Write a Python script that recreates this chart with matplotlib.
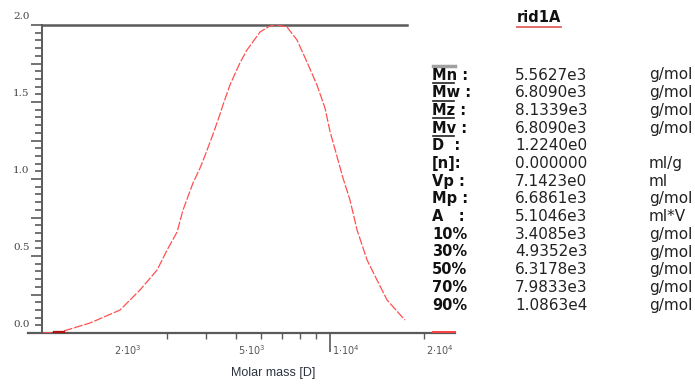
import matplotlib.pyplot as plt
import matplotlib.ticker as ticker

# molar mass distribution
molar_mass = [1202, 1365, 1702, 2123, 2460, 2792, 3006, 3236, 3381, 3639, 3831,
              3972, 4217, 4439, 4538, 4779, 5148, 5420, 5971, 6426, 6765, 7281,
              7838, 8438, 9085, 9638, 10000, 10610, 11010, 11590, 12210, 13150,
              14150, 15240, 17390]
signal = [0.0, 0.006, 0.065, 0.149, 0.279, 0.409, 0.539, 0.656, 0.799, 0.974, 1.07,
          1.15, 1.29, 1.42, 1.48, 1.61, 1.755, 1.838, 1.955, 1.994, 2.0, 1.987,
          1.903, 1.760, 1.610, 1.461, 1.31, 1.123, 1.006, 0.864, 0.669, 0.474,
          0.344, 0.214, 0.084]

# short marks on the baseline (integration limits)
limit_left = [1300, 1400]
limit_right = [21400, 25100]

y_labels = ["0.0", "0.5", "1.0", "1.5", "2.0"]
y_label_vals = [0.0, 0.5, 1.0, 1.5, 2.0]
x_label_vals = [2e3, 5e3, 1e4, 2e4]
x_labels = [r"$2{\cdot}10^{3}$", r"$5{\cdot}10^{3}$", r"$1{\cdot}10^{4}$", r"$2{\cdot}10^{4}$"]
x_minor = [3e3, 4e3, 5e3, 6e3, 7e3, 8e3, 9e3, 2e4]

title = "rid1A"
stat_names = ["Mn :", "Mw :", "Mz :", "Mv :", "D  :", "[n]:", "Vp :", "Mp :", "A   :",
              "10%", "30%", "50%", "70%", "90%"]
stat_values = ["5.5627e3", "6.8090e3", "8.1339e3", "6.8090e3", "1.2240e0", "0.000000",
               "7.1423e0", "6.6861e3", "5.1046e3", "3.4085e3", "4.9352e3", "6.3178e3",
               "7.9833e3", "1.0863e4"]
stat_units = ["g/mol", "g/mol", "g/mol", "g/mol", "", "ml/g", "ml", "g/mol", "ml*V",
              "g/mol", "g/mol", "g/mol", "g/mol", "g/mol"]

W, H = 695, 387
fig = plt.figure(figsize=(W / 100, H / 100), dpi=100)
ax = fig.add_axes([42 / W, 1 - 333 / H, 413 / W, 308 / H])

xmin, xmax = 1194, 25160
ax.set_xscale("log")
ax.set_xlim(xmin, xmax)
ax.set_ylim(0, 2.0)

ax.plot(molar_mass, signal, color="#ff5050", lw=0.9, linestyle=(0, (7, 1.5)), zorder=3)
ax.plot(limit_left, [0.005, 0.005], color="#b01010", lw=1.6, zorder=4, clip_on=False)
ax.plot(limit_right, [0.005, 0.005], color="#ff4040", lw=1.4, zorder=4, clip_on=False)

axis_col = "#5a5a5a"
for s in ["top", "right", "bottom"]:
    ax.spines[s].set_visible(False)
ax.spines["left"].set_color(axis_col)
ax.spines["left"].set_linewidth(1.4)
# bottom line sticks out a bit to the left, top line stops short
ax.plot([-0.034, 1.0], [0, 0], transform=ax.transAxes, color=axis_col, lw=1.6, clip_on=False)
ax.plot([xmin, 17650], [2.0, 2.0], color=axis_col, lw=1.8, clip_on=False)

# y ticks
ax.yaxis.set_major_locator(ticker.MultipleLocator(0.25))
ax.yaxis.set_minor_locator(ticker.MultipleLocator(0.05))
ax.yaxis.set_major_formatter(ticker.NullFormatter())
ax.tick_params(axis="y", which="major", length=8, width=1.2, color=axis_col)
ax.tick_params(axis="y", which="minor", length=5, width=1.2, color=axis_col)
for v, lab in zip(y_label_vals, y_labels):
    ax.annotate(lab, xy=(0, v), xycoords=("axes fraction", "data"), xytext=(-9, 3),
                textcoords="offset points", ha="right", va="bottom", fontsize=7.5,
                family="DejaVu Serif", color="#444444")

# x ticks
ax.set_xticks([1e4])
ax.set_xticks(x_minor, minor=True)
ax.xaxis.set_major_formatter(ticker.NullFormatter())
ax.xaxis.set_minor_formatter(ticker.NullFormatter())
ax.tick_params(axis="x", which="major", length=14, width=1.2, color=axis_col)
ax.tick_params(axis="x", which="minor", length=4, width=1.0, color=axis_col)
for v, lab in zip(x_label_vals, x_labels):
    ax.annotate(lab, xy=(v, 0), xycoords=("data", "axes fraction"), xytext=(1.5, -12),
                textcoords="offset points", ha="left", va="center", fontsize=7,
                color="#555555")

fig.text(273 / W, 1 - 373 / H, "Molar mass [D]", ha="center", va="center",
         fontsize=9, family="Liberation Sans", color="#2d3340")

# stats table
fig.text(539 / W, 1 - 18 / H, title, ha="center", va="center", fontsize=10.5,
         fontweight="bold", color="#111111")
fig.add_artist(plt.Line2D([517 / W, 561 / W], [1 - 27 / H, 1 - 27 / H], color="#e06060", lw=1.3))

row0, dy = 75, 17.7
for i in range(len(stat_names)):
    y = 1 - (row0 + i * dy) / H
    fig.text(432 / W, y, stat_names[i], ha="left", va="center", fontsize=10.5,
             fontweight="bold", color="#111111")
    fig.text(515 / W, y, stat_values[i], ha="left", va="center", fontsize=11,
             color="#222222")
    fig.text(649 / W, y, stat_units[i], ha="left", va="center", fontsize=11,
             color="#222222")
    if i < 4:
        yl = 1 - (row0 + i * dy + 8) / H
        fig.add_artist(plt.Line2D([433 / W, 454 / W], [yl, yl], color="#222222", lw=1.2))
# grey highlight bar above Mn
fig.add_artist(plt.Line2D([433 / W, 455 / W], [1 - 66 / H, 1 - 66 / H], color="#a0a0a0", lw=2.5))

fig.savefig("out.png", dpi=100)
